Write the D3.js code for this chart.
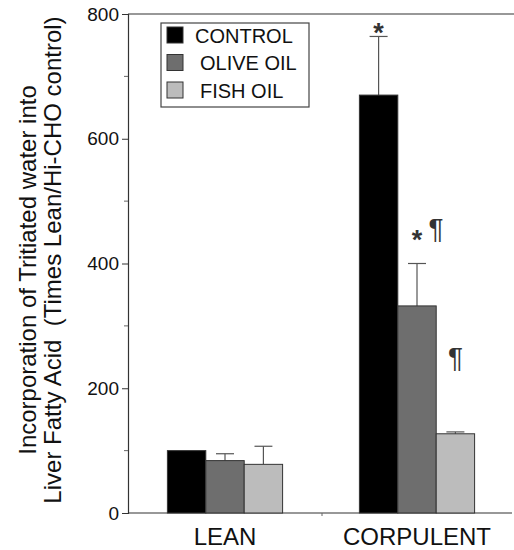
<!DOCTYPE html>
<html>
<head>
<meta charset="utf-8">
<script src="https://cdn.jsdelivr.net/npm/d3@7"></script>
<style>
  body { margin: 0; background: #fff; }
  text { font-family: "Liberation Sans", Arial, sans-serif; }
</style>
</head>
<body>
<div id="chart"></div>
<script>
const width = 514;
const height = 550;

const groups = ['LEAN', 'CORPULENT'];
const series = ['CONTROL', 'OLIVE OIL', 'FISH OIL'];
const colors = ['#000000', '#6e6e6e', '#bcbcbc'];
const controlMean = [100, 670];
const oliveMean = [84, 332];
const fishMean = [78, 127];
const controlErr = [0, 94];
const oliveErr = [11, 68];
const fishErr = [29, 3];
const majorTicks = [0, 200, 400, 600, 800];
const minorTicks = [100, 300, 500, 700];
// significance marks: [group, series, text]
const marks = [
    [1, 0, '*'],
    [1, 1, '*'],
    [1, 1, '¶'],
    [1, 2, '¶']
];

const means = [controlMean, oliveMean, fishMean];
const errs = [controlErr, oliveErr, fishErr];

const data = [];
groups.forEach((g, gi) => {
    series.forEach((s, si) => {
        data.push({ group: g, series: s, si: si, value: means[si][gi], err: errs[si][gi] });
    });
});

const svg = d3.select('#chart').append('svg')
    .attr('width', width)
    .attr('height', height);

const y = d3.scaleLinear().domain([0, 800]).range([513, 14]);
const x0 = d3.scaleBand().domain(groups).range([129, 513])
    .paddingInner(0.4).paddingOuter(0.2);
const x1 = d3.scaleBand().domain(series).range([0, x0.bandwidth()]);

// frame: top line
svg.append('line')
    .attr('x1', 128).attr('x2', width)
    .attr('y1', y(800)).attr('y2', y(800))
    .attr('stroke', '#333').attr('stroke-width', 1.2);

// y axis
const yAxis = svg.append('g')
    .attr('transform', 'translate(128,0)')
    .call(d3.axisLeft(y).tickValues(majorTicks).tickSize(6).tickPadding(3).tickFormat(d3.format('d')));
yAxis.select('.domain').attr('stroke', '#333').attr('stroke-width', 1.2);
yAxis.selectAll('.tick line').attr('stroke', '#333');
yAxis.selectAll('.tick text')
    .attr('font-size', '19px')
    .attr('fill', '#111')
    .attr('font-family', '"Liberation Sans", Arial, sans-serif');

svg.append('g')
    .selectAll('line')
    .data(minorTicks)
    .join('line')
    .attr('x1', 124).attr('x2', 128)
    .attr('y1', d => y(d)).attr('y2', d => y(d))
    .attr('stroke', '#666');

// x axis
svg.append('line')
    .attr('x1', 128).attr('x2', 512)
    .attr('y1', y(0)).attr('y2', y(0))
    .attr('stroke', '#333').attr('stroke-width', 1.2);
svg.append('line')
    .attr('x1', 322).attr('x2', 322)
    .attr('y1', y(0)).attr('y2', y(0) + 3)
    .attr('stroke', '#666');

svg.append('g')
    .selectAll('text')
    .data(groups)
    .join('text')
    .attr('x', d => x0(d) + x0.bandwidth() / 2)
    .attr('y', 545)
    .attr('text-anchor', 'middle')
    .attr('font-size', '24px')
    .attr('fill', '#111')
    .text(d => d);

// bars
const bars = svg.append('g')
    .selectAll('g')
    .data(data)
    .join('g')
    .attr('transform', d => `translate(${x0(d.group) + x1(d.series)},0)`);

bars.filter(d => d.err > 0)
    .append('line')
    .attr('x1', x1.bandwidth() / 2).attr('x2', x1.bandwidth() / 2)
    .attr('y1', d => y(d.value)).attr('y2', d => y(d.value + d.err))
    .attr('stroke', '#555').attr('stroke-width', 1.2);
bars.filter(d => d.err > 0)
    .append('line')
    .attr('x1', x1.bandwidth() / 2 - 9).attr('x2', x1.bandwidth() / 2 + 9)
    .attr('y1', d => y(d.value + d.err)).attr('y2', d => y(d.value + d.err))
    .attr('stroke', '#555').attr('stroke-width', 1.2);

bars.append('rect')
    .attr('x', 0)
    .attr('width', x1.bandwidth())
    .attr('y', d => y(d.value))
    .attr('height', d => y(0) - y(d.value))
    .attr('fill', (d) => colors[d.si])
    .attr('stroke', '#333')
    .attr('stroke-width', 1);

// significance marks, placed relative to the top of each error bar
const markX = d => {
    const cx = x0(groups[d[0]]) + x1(series[d[1]]) + x1.bandwidth() / 2;
    return d[2] === '¶' && d[1] === 1 ? cx + 19 : cx;
};
const markY = d => {
    const top = y(means[d[1]][d[0]] + errs[d[1]][d[0]]);
    if (d[1] === 2) return top - 64.5;
    if (d[1] === 1) return d[2] === '*' ? top - 15 : top - 26;
    return top + 6;
};
svg.append('g')
    .selectAll('text')
    .data(marks)
    .join('text')
    .attr('x', markX)
    .attr('y', markY)
    .attr('text-anchor', 'middle')
    .attr('font-family', d => d[2] === '¶' ? '"Liberation Serif", "DejaVu Serif", serif' : '"Liberation Sans", Arial, sans-serif')
    .attr('font-weight', d => d[2] === '*' ? 'bold' : 'normal')
    .attr('font-size', d => d[2] === '¶' ? '28px' : '27px')
    .attr('fill', '#333')
    .text(d => d[2]);

// legend
const legend = svg.append('g').attr('transform', 'translate(161,23)');
legend.append('rect')
    .attr('width', 148).attr('height', 84)
    .attr('fill', '#fff').attr('stroke', '#444').attr('stroke-width', 1.2);
const items = legend.selectAll('g.item')
    .data(series)
    .join('g')
    .attr('class', 'item')
    .attr('transform', (d, i) => `translate(6,${12 + i * 27.5})`);
items.append('rect')
    .attr('width', 16).attr('height', 16)
    .attr('y', -8)
    .attr('fill', (d, i) => colors[i])
    .attr('stroke', '#333');
items.append('text')
    .attr('x', (d, i) => i === 0 ? 28 : 33)
    .attr('y', 7.5)
    .attr('font-size', '20px')
    .attr('fill', '#111')
    .text(d => d);

// y axis label
const labelLines = [
    ['Incorporation of Tritiated water into', 28, 270],
    ['Liver Fatty Acid\u00a0\u00a0(Times Lean/Hi-CHO control)', 53, 260]
];
svg.append('g')
    .selectAll('text')
    .data(labelLines)
    .join('text')
    .attr('transform', d => `translate(${d[1]},${d[2]}) rotate(-90)`)
    .attr('text-anchor', 'middle')
    .attr('dy', '0.35em')
    .attr('font-size', '24px')
    .attr('fill', '#111')
    .text(d => d[0]);
</script>
</body>
</html>
